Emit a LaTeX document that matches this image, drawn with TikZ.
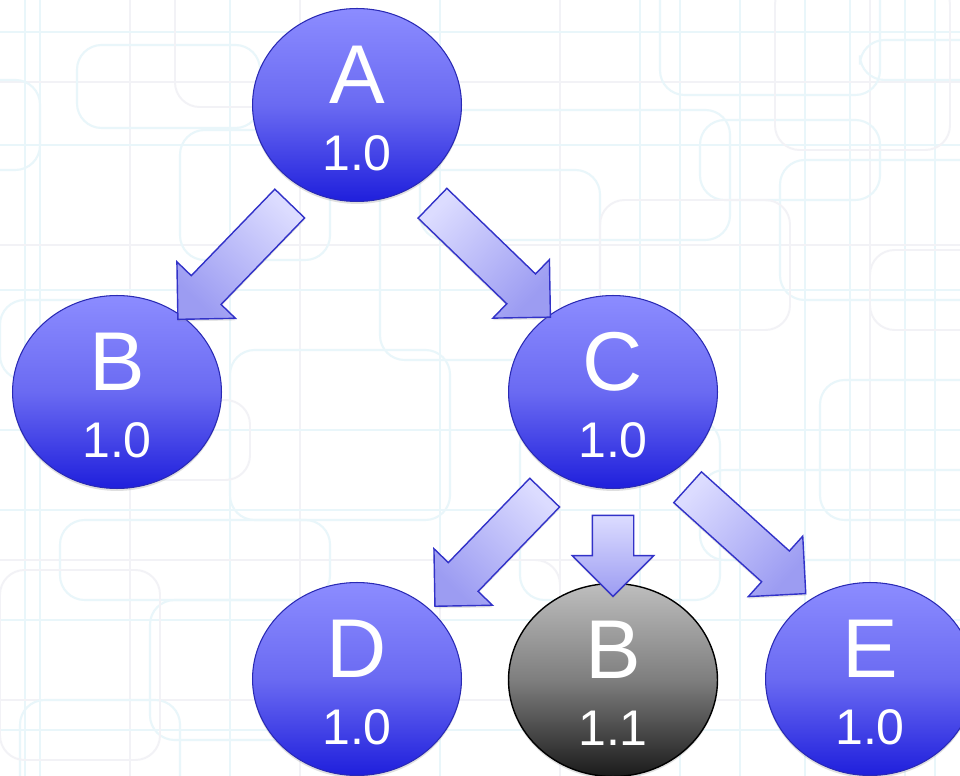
\documentclass[tikz,border=0pt]{standalone}
\usepackage{fontspec}
\setmainfont{Liberation Sans}
\usetikzlibrary{shapes.geometric,shapes.arrows,calc,shadows}
\definecolor{bgcyan}{HTML}{E9F6FA}
\definecolor{bggray}{HTML}{F2F2F6}
\definecolor{ntop}{HTML}{8C8CFF}
\definecolor{nmid}{HTML}{6A6AF2}
\definecolor{nbot}{HTML}{1F1FDC}
\definecolor{nline}{HTML}{2A2AB4}
\definecolor{gtop}{HTML}{BEBEBE}
\definecolor{gmid}{HTML}{7E7E7E}
\definecolor{gbot}{HTML}{1A1A1A}
\definecolor{atail}{HTML}{DCDCFF}
\definecolor{ahead}{HTML}{9C9CF2}
\definecolor{aline}{HTML}{3232C8}
\begin{document}
\begin{tikzpicture}[x=0.02cm,y=-0.02cm,
  bga/.style={draw=bgcyan, line width=1.2pt, rounded corners=14pt},
  bgb/.style={draw=bggray, line width=1.1pt, rounded corners=14pt},
  bnode/.style={ellipse, minimum width=4.18cm, minimum height=3.86cm, inner sep=0pt,
    draw=nline, line width=0.6pt, top color=ntop, bottom color=nbot, middle color=nmid,
    drop shadow={opacity=0.25, shadow xshift=0pt, shadow yshift=-1.4pt}},
  gnode/.style={ellipse, minimum width=4.18cm, minimum height=3.86cm, inner sep=0pt,
    draw=black, line width=0.8pt, top color=gtop, bottom color=gbot, middle color=gmid,
    drop shadow={opacity=0.25, shadow xshift=0pt, shadow yshift=-1.4pt}},
  letter/.style={text=white, font=\fontsize{47.5}{50}\selectfont, inner sep=0pt, anchor=base},
  num/.style={text=white, font=\fontsize{28.5}{30}\selectfont, inner sep=0pt, anchor=base},
  blockarrow/.style={single arrow, single arrow tip angle=90, single arrow head extend=0.4cm,
    inner xsep=0pt, inner ysep=0.4cm, draw=aline, line width=0.8pt,
    top color=atail, bottom color=ahead, shading angle=#1,
    drop shadow={opacity=0.2, shadow xshift=0pt, shadow yshift=-1.2pt}}
]
\useasboundingbox (0,0) rectangle (960,776);
\clip (0,0) rectangle (960,776);
\fill[white] (0,0) rectangle (960,776);
% background texture
\foreach \xx in {25,40,230,440,640,680,740,805,850,905,935} {\draw[bga] (\xx,-10) -- (\xx,790);}
\foreach \xx in {130,300,560,870} {\draw[bgb] (\xx,-10) -- (\xx,790);}
\foreach \yy in {32,145,290,430,510,620,730} {\draw[bga] (-10,\yy) -- (970,\yy);}
\foreach \yy in {82,245,560,700} {\draw[bgb] (-10,\yy) -- (970,\yy);}
\draw[bga] (77,45) rectangle (260,128);
\draw[bga] (-30,80) rectangle (40,170);
\draw[bga] (180,130) rectangle (330,260);
\draw[bga] (660,-40) rectangle (880,95);
\draw[bga] (860,40) rectangle (990,80);
\draw[bga] (700,120) rectangle (880,200);
\draw[bga] (780,160) rectangle (1000,300);
\draw[bga] (420,110) rectangle (730,240);
\draw[bga] (0,300) rectangle (170,380);
\draw[bga] (380,170) rectangle (600,360);
\draw[bga] (230,350) rectangle (450,520);
\draw[bga] (60,520) rectangle (330,600);
\draw[bga] (150,600) rectangle (400,740);
\draw[bga] (820,380) rectangle (990,520);
\draw[bga] (700,470) rectangle (990,560);
\draw[bga] (20,700) rectangle (180,800);
\draw[bga] (520,420) rectangle (720,600);
\draw[bgb] (175,-40) rectangle (300,107);
\draw[bgb] (775,-20) rectangle (950,150);
\draw[bgb] (0,570) rectangle (160,760);
\draw[bgb] (440,560) rectangle (560,700);
\draw[bgb] (60,400) rectangle (250,480);
\draw[bgb] (870,250) rectangle (990,330);
\draw[bgb] (600,200) rectangle (790,330);
% nodes
\node[bnode] (A) at (357,105) {};
\node[bnode] (B) at (117,392) {};
\node[bnode] (C) at (613,392) {};
\node[bnode] (D) at (357,679) {};
\node[gnode] (G) at (613,680) {};
\node[bnode] (E) at (870,679) {};
% block arrows
\node[blockarrow=-44, minimum height=3.22cm, rotate=-134] (AB) at ($(A)!0.5!(B)+(4,5.5)$) {};
\node[blockarrow=46, minimum height=3.28cm, rotate=-44] (AC) at ($(A)!0.5!(C)+(-1,4.5)$) {};
\node[blockarrow=-44, minimum height=3.16cm, rotate=-134] (CD) at ($(C)!0.5!(D)+(12,6.5)$) {};
\node[blockarrow=0, minimum height=1.62cm, rotate=-90] (CG) at ($(C)!0.5!(G)+(0,9.5)$) {};
\node[blockarrow=48, minimum height=3.18cm, rotate=-42] (CE) at ($(C)!0.5!(E)+(-2.5,-2)$) {};
% labels
\node[letter] (Al) at ($(A)+(0,-1.5)$) {A};
\node[num] (An) at ($(A)+(0,65.5)$) {1.0};
\node[letter] (Bl) at ($(B)+(0,-1.5)$) {B};
\node[num] (Bn) at ($(B)+(0,65.5)$) {1.0};
\node[letter] (Cl) at ($(C)+(0,-1.5)$) {C};
\node[num] (Cn) at ($(C)+(0,65.5)$) {1.0};
\node[letter] (Dl) at ($(D)+(0,-1.5)$) {D};
\node[num] (Dn) at ($(D)+(0,65.5)$) {1.0};
\node[letter] (Gl) at ($(G)+(0,-1.5)$) {B};
\node[num] (Gn) at ($(G)+(0,65.5)$) {1.1};
\node[letter] (El) at ($(E)+(0,-1.5)$) {E};
\node[num] (En) at ($(E)+(0,65.5)$) {1.0};
\end{tikzpicture}
\end{document}
